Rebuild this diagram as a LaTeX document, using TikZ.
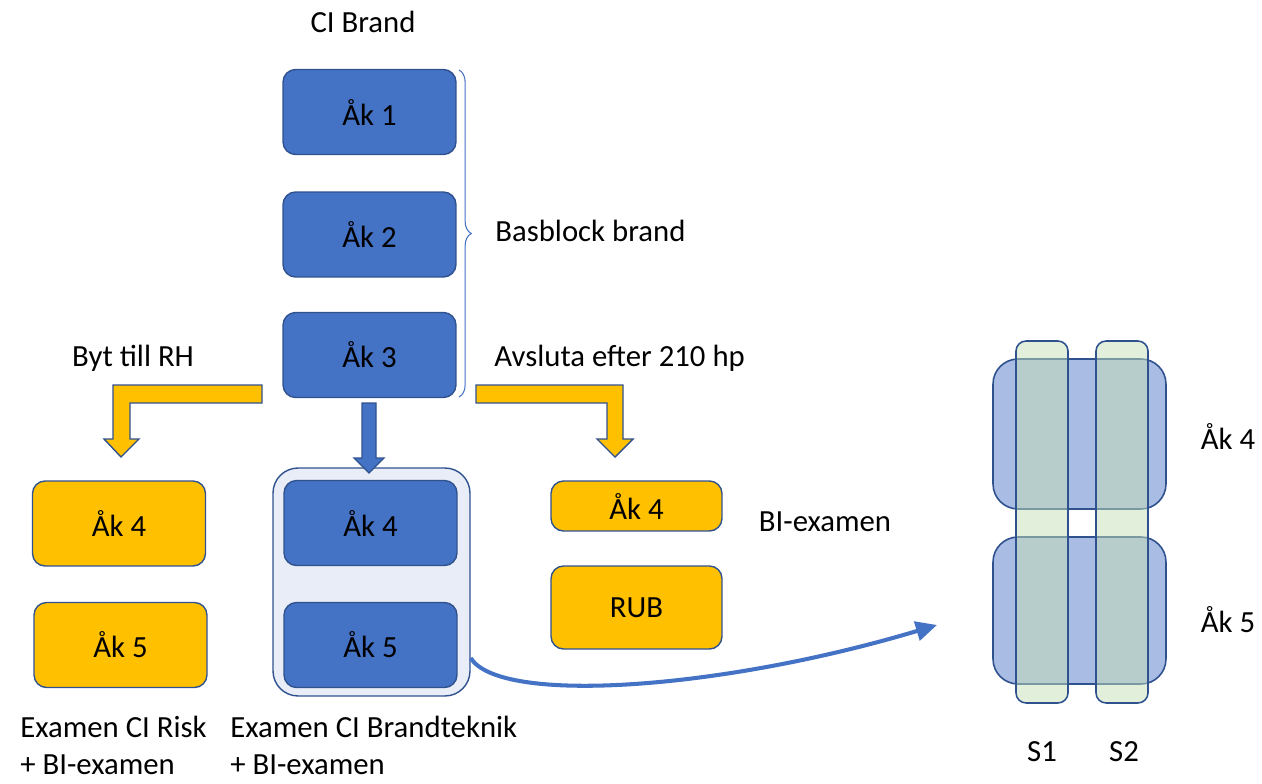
\documentclass[tikz,border=0pt]{standalone}
\usepackage{fontspec}
\setmainfont{Carlito}
\usepackage{tikz}
\usetikzlibrary{arrows.meta, positioning, decorations.pathreplacing}

\definecolor{ciblue}{HTML}{4472C4}
\definecolor{ciedge}{HTML}{2F528F}
\definecolor{ciyellow}{HTML}{FFC000}
\definecolor{cigroup}{HTML}{E9EDF7}
\definecolor{cilight}{HTML}{A9BCE3}
\definecolor{cigreen}{HTML}{C5DFB5}

\begin{document}
\begin{tikzpicture}[
  x=0.02cm, y=-0.02cm,
  every node/.style={font=\fontsize{17.5}{21}\selectfont},
  year/.style={rectangle, draw=ciedge, line width=0.8pt, fill=ciblue, rounded corners=0.25cm, minimum width=3.46cm, minimum height=1.7cm, align=center},
  alt/.style={year, fill=ciyellow},
  grp/.style={rectangle, draw=ciedge, line width=0.8pt, fill=cigroup, rounded corners=0.5cm, minimum width=3.94cm, minimum height=4.56cm},
  label/.style={inner sep=0pt, align=left},
  bent/.style={draw=ciedge, line width=0.8pt, fill=ciyellow},
  yearband/.style={draw=ciedge, line width=0.9pt, fill=cilight, rounded corners=0.5cm, minimum width=3.46cm},
  semband/.style={draw=ciedge, line width=0.9pt, fill=cigreen, fill opacity=0.5, rounded corners=0.2cm, minimum width=1.04cm, minimum height=7.24cm}
]
\useasboundingbox (0,0) rectangle (1262,784);

% Basblock
\node[label] (title) at (363,22) {CI Brand};
\node[year] (y1) at (369.5,112) {Åk 1};
\node[year] (y2) at (369.5,234.5) {Åk 2};
\node[year] (y3) at (369.5,355) {Åk 3};
\draw[ciblue, line width=0.6pt, decorate, decoration={brace, amplitude=7pt, aspect=0.5}]
  (459,70) -- (459,397) coordinate[midway] (bmid);
\node[label, anchor=west] (bas) at (495,231) {Basblock brand};

% Three ways after year 3
\node[label] (rh) at (133,358) {Byt till RH};
\node[label, anchor=west] (quit) at (494,358) {Avsluta efter 210 hp};

\node[grp] (g) at (371.5,582) {};
\node[year] (b4) at (370.5,523) {Åk 4};
\node[year] (b5) at (370.5,645) {Åk 5};

\node[alt] (r4) at (119,523.5) {Åk 4};
\node[alt] (r5) at (120.5,645) {Åk 5};

\node[alt, minimum width=3.42cm, minimum height=1cm] (q4) at (636.5,506) {Åk 4};
\node[alt, minimum width=3.42cm, minimum height=1.66cm] (rub) at (636.5,607.5) {RUB};
\node[label] (bi) at (825,522) {BI-examen};

% Block arrows
\draw[bent] (262,385) -- (113,385) -- (113,439) -- (104,439) -- (121,457) -- (139,439)
  -- (130,439) -- (130,403) -- (262,403) -- cycle;
\draw[bent] (476,385) -- (623,385) -- (623,439) -- (633,439) -- (615,457) -- (597,439)
  -- (607,439) -- (607,403) -- (476,403) -- cycle;
\draw[bent, fill=ciblue] (362,403) -- (376,403) -- (376,458) -- (384,458) -- (369,473)
  -- (354,458) -- (362,458) -- cycle;

% Degrees
\node[label, anchor=west] (ex1) at (20,727) {Examen CI Risk};
\node[label, anchor=west] (ex1b) at (20,765) {+ BI-examen};
\node[label, anchor=west] (ex2) at (230,727) {Examen CI Brandteknik};
\node[label, anchor=west] (ex2b) at (230,765) {+ BI-examen};

% Year 4 and 5 in semesters
\node[yearband, minimum height=3cm] (u4) at (1079.5,434) {};
\node[yearband, minimum height=2.94cm] (u5) at (1079.5,610.5) {};
\node[semband] (s1) at (1042,522) {};
\node[semband] (s2) at (1122,522) {};
\node[label] (l4) at (1228,436) {Åk 4};
\node[label] (l5) at (1228,620) {Åk 5};
\node[label] (ls1) at (1042,752) {S1};
\node[label] (ls2) at (1124,752) {S2};

\coordinate (tip) at (937,625);
\draw[ciblue, line width=2.3pt, -{Triangle[length=12pt, width=11pt]}]
  (g.east |- 0,658) .. controls (500,705) and (720,690) .. (tip);

\end{tikzpicture}
\end{document}
